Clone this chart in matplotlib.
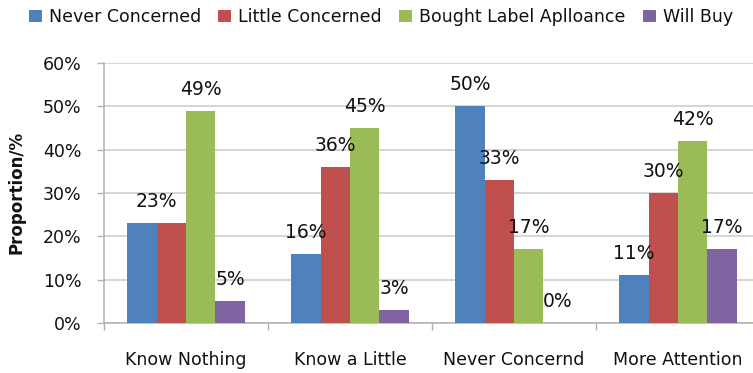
import matplotlib
matplotlib.use("Agg")
import matplotlib.pyplot as plt
import numpy as np

# Survey results: awareness group vs. attitude towards labelled appliances
categories = ["Know Nothing", "Know a Little", "Never Concernd", "More Attention"]
series_names = ["Never Concerned", "Little Concerned", "Bought Label Aplloance", "Will Buy"]
never_concerned = [23, 16, 50, 11]
little_concerned = [23, 36, 33, 30]
bought_label = [49, 45, 17, 42]
will_buy = [5, 3, 0, 17]
yticks = [0, 10, 20, 30, 40, 50, 60]

series = [never_concerned, little_concerned, bought_label, will_buy]
colors = ["#4F81BD", "#C0504D", "#9BBB59", "#8064A2"]

plt.rcParams["font.family"] = ["DejaVu Sans"]

W, H = 753, 373
fig = plt.figure(figsize=(W / 100, H / 100), dpi=100)
ax = fig.add_axes([104 / W, 50 / H, (760 - 104) / W, 260 / H])

n = len(series)
bar_w = 0.179
x = np.arange(len(categories))
offsets = (np.arange(n) - (n - 1) / 2) * bar_w

for vals, off, col, name in zip(series, offsets, colors, series_names):
    ax.bar(x + off, vals, width=bar_w, color=col, label=name, zorder=3)

# value labels; equal neighbouring bars share one label placed between them
for gi in range(len(categories)):
    vals = [s[gi] for s in series]
    si = 0
    while si < n:
        sj = si
        while sj + 1 < n and vals[sj + 1] == vals[si]:
            sj += 1
        xc = gi + (offsets[si] + offsets[sj]) / 2
        ax.annotate(f"{vals[si]}%", xy=(xc, vals[si]), xytext=(0, 16),
                    textcoords="offset pixels", ha="center", va="baseline",
                    fontsize=13.5, color="#111111", zorder=4)
        si = sj + 1

ax.set_xlim(-0.5, len(categories) - 0.5)
ax.set_ylim(0, 60)
ax.set_yticks(yticks)
ax.set_yticklabels([f"{v}%" for v in yticks])
ax.set_xticks(x)
ax.set_xticklabels(categories)
ax.set_xticks(np.arange(len(categories) + 1) - 0.5, minor=True)

ax.grid(axis="y", color="#d2d2d2", linewidth=1.3, zorder=0)
ax.set_axisbelow(True)
for side in ("top", "right"):
    ax.spines[side].set_visible(False)
for side in ("left", "bottom"):
    ax.spines[side].set_color("#b0b0b0")
    ax.spines[side].set_linewidth(1.1)

ax.tick_params(axis="y", length=5, width=1, color="#b0b0b0", pad=11,
               labelsize=12.5, labelcolor="#111111")
ax.tick_params(axis="x", which="major", length=0, pad=20,
               labelsize=12.5, labelcolor="#111111")
ax.tick_params(axis="x", which="minor", length=5, width=1, color="#b0b0b0")

fig.text(17 / W, 1 - 192 / H, "Proportion/%", rotation=90, ha="center",
         va="center", fontsize=12, fontweight="bold", color="#111111")

fig.legend(loc="center", bbox_to_anchor=(381 / W, 1 - 17 / H), ncol=4,
           frameon=False, fontsize=12.5, handlelength=0.75, handleheight=0.75,
           handletextpad=0.4, columnspacing=1.0, borderaxespad=0,
           labelcolor="#111111")

fig.savefig("out.png", dpi=100)
